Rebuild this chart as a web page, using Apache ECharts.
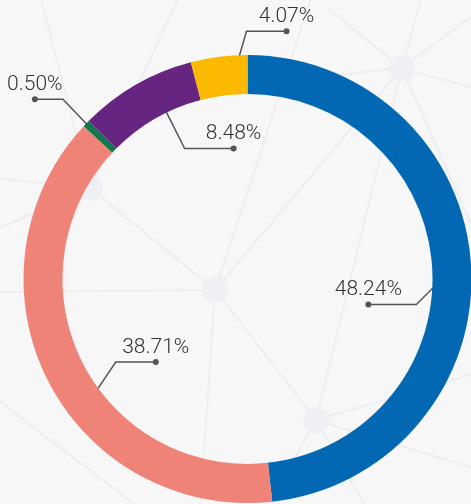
<!DOCTYPE html>
<html>
<head>
<meta charset="utf-8">
<script src="https://cdn.jsdelivr.net/npm/echarts@6/dist/echarts.min.js"></script>
<style>
  html, body { margin: 0; padding: 0; background: #f7f7f7; }
  #chart { width: 471px; height: 504px; }
</style>
</head>
<body>
<div id="chart"></div>
<script>
// slice values (percent), clockwise from the top
const names = ['A', 'B', 'C', 'D', 'E']
const values = [48.24, 38.71, 0.50, 8.48, 4.07]
const colors = ['#0268b4', '#f08378', '#0e7a4c', '#652581', '#fbb900']

// leader line of each label: where it leaves the ring (fraction of the slice, radius),
// the elbow offset and the length of the flat part
const legAt = [0.506, 0.425, 0.5, 0.63, 0.82]
const legR = [202, 194, 223, 194, 217]
const legElbow = [[-33, 33], [23, -34], [-24, -25], [22, 44], [9, -31]]
const legFlat = [-50, 38, -30, 47, 38]

// faint network drawn behind the chart
const bgNodes = [[402, 68], [215, 290], [316, 420], [90, 188]]
const bgLinks = [
  [[402, 68], [215, 290]], [[402, 68], [316, 420]], [[215, 290], [316, 420]], [[215, 290], [90, 188]],
  [[402, 68], [422, -5]], [[402, 68], [480, 10]], [[402, 68], [480, 90]], [[402, 68], [330, 10]],
  [[402, 68], [335, 75]], [[402, 68], [480, 245]],
  [[215, 290], [-5, 292]], [[215, 290], [200, 510]], [[215, 290], [312, -5]],
  [[316, 420], [480, 372]], [[316, 420], [266, 510]], [[316, 420], [368, 510]],
  [[90, 188], [-5, 178]], [[90, 188], [-5, 230]], [[90, 188], [180, -5]], [[90, 188], [40, -5]],
  [[-5, 398], [142, 510]], [[316, 420], [480, 470]]
]

const cx = 247.5, cy = 279
const total = values.reduce((a, b) => a + b, 0)
let acc = 0
const startFrac = values.map(v => { let s = acc; acc += v / total; return s })

let graphics = []
for (let l of bgLinks) {
  graphics.push({
    type: 'line', silent: true,
    shape: { x1: l[0][0], y1: l[0][1], x2: l[1][0], y2: l[1][1] },
    style: { stroke: '#eceef2', lineWidth: 2 }
  })
}
for (let n of bgNodes) {
  graphics.push({
    type: 'circle', silent: true,
    shape: { cx: n[0], cy: n[1], r: 13 },
    style: { fill: '#eef0f3' }
  })
}

const chart = echarts.init(document.getElementById('chart'))
chart.setOption({
  backgroundColor: '#f7f7f7',
  animation: false,
  graphic: { zlevel: 0, elements: graphics },
  series: [{
    type: 'pie',
    zlevel: 1,
    center: [cx, cy],
    radius: [185, 224],
    startAngle: 90,
    clockwise: true,
    avoidLabelOverlap: false,
    data: values.map((v, i) => ({ name: names[i], value: v, itemStyle: { color: colors[i] } })),
    label: {
      show: true,
      formatter: p => '{t|' + p.value.toFixed(2) + '%}\n{dot|}',
      rich: {
        t: { fontFamily: 'Roboto', fontWeight: 300, fontSize: 21, color: '#333', lineHeight: 23, align: 'center' },
        dot: { width: 6, height: 6, borderRadius: 3, backgroundColor: '#555', align: 'center' }
      }
    },
    labelLine: { show: true, lineStyle: { color: '#555', width: 1.5 } },
    emphasis: { disabled: true },
    labelLayout: function (params) {
      const i = params.dataIndex
      const f = startFrac[i] + legAt[i] * values[i] / total
      const a = f * 2 * Math.PI
      const x0 = cx + legR[i] * Math.sin(a)
      const y0 = cy - legR[i] * Math.cos(a)
      const x1 = x0 + legElbow[i][0]
      const y1 = y0 + legElbow[i][1]
      const x2 = x1 + legFlat[i]
      return {
        x: x2 + 2,
        y: y1 + 3,
        align: 'center',
        verticalAlign: 'bottom',
        labelLinePoints: [[x0, y0], [x1, y1], [x2, y1]]
      }
    }
  }]
})
</script>
</body>
</html>
